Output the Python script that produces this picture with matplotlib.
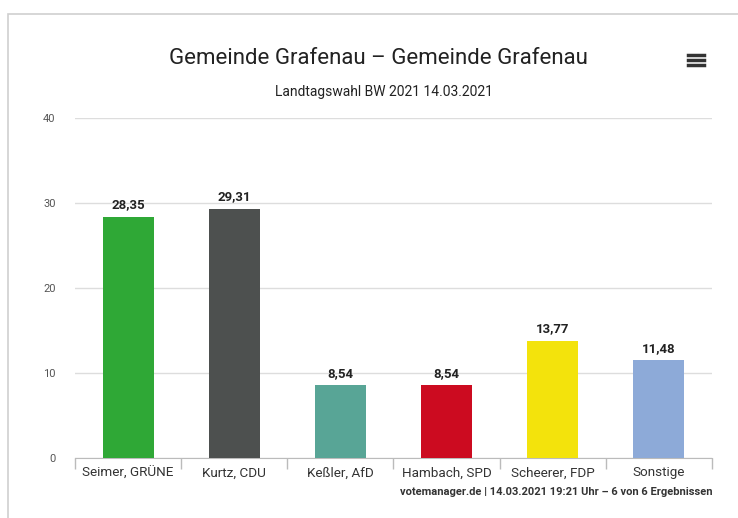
import matplotlib.pyplot as plt
from matplotlib.patches import Rectangle
from matplotlib.lines import Line2D

# Landtagswahl BW 2021, Gemeinde Grafenau
candidates = ["Seimer, GRÜNE", "Kurtz, CDU", "Keßler, AfD", "Hambach, SPD", "Scheerer, FDP", "Sonstige"]
shares = [28.35, 29.31, 8.54, 8.54, 13.77, 11.48]
share_labels = ["28,35", "29,31", "8,54", "8,54", "13,77", "11,48"]
colors = ["#2fa836", "#4d504f", "#58a596", "#cc0b20", "#f3e30c", "#8daad8"]
y_ticks = [0, 10, 20, 30, 40]

plt.rcParams["font.family"] = ["Roboto", "DejaVu Sans"]

fig = plt.figure(figsize=(7.38, 5.18), dpi=100)
fig.patch.set_facecolor("white")

# card frame
fig.patches.append(Rectangle((8 / 738, -0.1), 1.1, (518 - 14) / 518 + 0.1,
                             transform=fig.transFigure, fill=False,
                             edgecolor="#cfcfcf", linewidth=1.2))

ax = fig.add_axes([75 / 738, 60 / 518, 637 / 738, 340 / 518])
x = list(range(len(candidates)))
ax.bar(x, shares, width=0.48, color=colors, edgecolor="none", zorder=3)
for xi, val, lab in zip(x, shares, share_labels):
    ax.annotate(lab, (xi, val), xytext=(0, 4), textcoords="offset points",
                ha="center", va="bottom", fontsize=9.5, fontweight="bold", color="#222222")

ax.set_xlim(-0.5, len(candidates) - 0.5)
ax.set_ylim(0, 40)
ax.set_yticks(y_ticks)
ax.set_yticklabels([str(t) for t in y_ticks], fontsize=8, color="#555555")
ax.tick_params(axis="y", length=0, pad=14)
ax.set_xticks(x)
ax.set_xticklabels(candidates, fontsize=9.7, color="#333333")
ax.tick_params(axis="x", length=0, pad=6)
# category boundary ticks
ax.set_xticks([i - 0.5 for i in range(len(candidates) + 1)], minor=True)
ax.tick_params(axis="x", which="minor", length=8, color="#bbbbbb", width=1)

ax.grid(axis="y", color="#dddddd", linewidth=1, zorder=0)
for s in ["top", "right", "left"]:
    ax.spines[s].set_visible(False)
ax.spines["bottom"].set_color("#bbbbbb")

fig.text(378 / 738, 1 - 58 / 518, "Gemeinde Grafenau – Gemeinde Grafenau",
         ha="center", va="center", fontsize=16, color="#222222")
fig.text(384 / 738, 1 - 92 / 518, "Landtagswahl BW 2021 14.03.2021",
         ha="center", va="center", fontsize=10, color="#222222")
fig.text(712 / 738, 1 - 492 / 518,
         "votemanager.de | 14.03.2021 19:21 Uhr – 6 von 6 Ergebnissen",
         ha="right", va="center", fontsize=8, fontweight="bold", color="#333333")

# menu icon
for yy in (55, 60, 65):
    fig.lines.append(Line2D([688 / 738, 704 / 738], [1 - yy / 518] * 2,
                            transform=fig.transFigure, color="#333333", linewidth=2.5))

fig.savefig("out.png", dpi=100)
